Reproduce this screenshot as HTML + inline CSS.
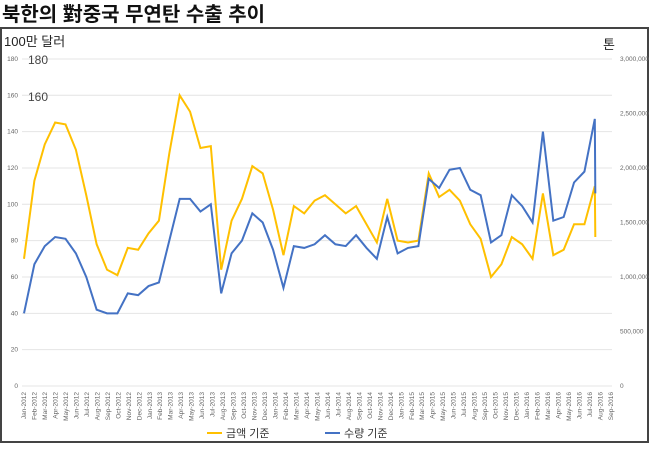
<!DOCTYPE html><html><head><meta charset="utf-8"><style>
body{margin:0;background:#fff;width:650px;height:444px;overflow:hidden;font-family:"Liberation Sans","Noto Sans CJK KR",sans-serif}
</style></head><body>
<svg width="650" height="444" xmlns="http://www.w3.org/2000/svg" font-family="Liberation Sans, Noto Sans CJK KR, sans-serif">
<text x="2" y="21" font-size="20" font-weight="bold" fill="#111">북한의 對중국 무연탄 수출 추이</text>
<rect x="1" y="28" width="647" height="414" fill="none" stroke="#444" stroke-width="2"/>
<text x="4" y="46" font-size="13" fill="#222">100만 달러</text>
<text x="603" y="49" font-size="13" fill="#222">톤</text>
<g stroke="#e4e4e4" stroke-width="1" id="grid"></g>
<g id="lbl" font-size="6.5" fill="#666"></g>
<text x="28" y="64" font-size="12" fill="#444">180</text>
<text x="28" y="101" font-size="12" fill="#444">160</text>
<polyline id="y" fill="none" stroke="#FFC000" stroke-width="2"/>
<polyline id="b" fill="none" stroke="#4472C4" stroke-width="2"/>
<line x1="207" y1="433" x2="222" y2="433" stroke="#FFC000" stroke-width="2"/>
<text x="226" y="437" font-size="11" fill="#333">금액 기준</text>
<line x1="325" y1="433" x2="340" y2="433" stroke="#4472C4" stroke-width="2"/>
<text x="344" y="437" font-size="11" fill="#333">수량 기준</text>
</svg>
<script>
const ns="http://www.w3.org/2000/svg";
const Y=v=>386-v*1.817;
const g=document.getElementById('grid'),l=document.getElementById('lbl');
function el(t,a,p,txt){const e=document.createElementNS(ns,t);for(const k in a)e.setAttribute(k,a[k]);if(txt!=null)e.textContent=txt;p.appendChild(e);return e;}
for(let i=0;i<=9;i++){const y=Y(i*20);el('line',{x1:22,x2:612,y1:y,y2:y},g);
el('text',{x:18,y:y+2,'text-anchor':'end'},l,i*20);}
for(let i=0;i<=6;i++){const y=386-i*327/6;el('text',{x:620,y:y+2},l,i==0?'0':(i*500000).toLocaleString('en-US'));}
const m=['Jan','Feb','Mar','Apr','May','Jun','Jul','Aug','Sep','Oct','Nov','Dec'];
const X=i=>24+i*10.48;
for(let i=0;i<57;i++){const x=X(i)+2,lab=m[i%12]+'-'+(2012+Math.floor(i/12));
el('text',{x:x,y:392,transform:`rotate(-90 ${x} 392)`,'text-anchor':'end'},l,lab);}
const yv=[70,113,133,145,144,130,105,78,64,61,76,75,84,91,128,160,151,131,132,64,91,103,121,117,97,72,99,95,102,105,100,95,99,89,79,103,80,79,80,117,104,108,102,89,81,60,67,82,78,70,106,72,75,89,89,110,82];
const bv=[40,67,77,82,81,73,60,42,40,40,51,50,55,57,80,103,103,96,100,51,73,80,95,90,75,54,77,76,78,83,78,77,83,76,70,93,73,76,77,114,109,119,120,108,105,79,83,105,99,90,140,91,93,112,118,147,106];
const sc=(i)=>24+i*(576/55.5);
document.getElementById('y').setAttribute('points',yv.map((v,i)=>(i==56?sc(55)+0.5:sc(i))+','+Y(v)).join(' '));
document.getElementById('b').setAttribute('points',bv.map((v,i)=>(i==56?sc(55)+0.5:sc(i))+','+Y(v)).join(' '));
</script>
</body></html>
